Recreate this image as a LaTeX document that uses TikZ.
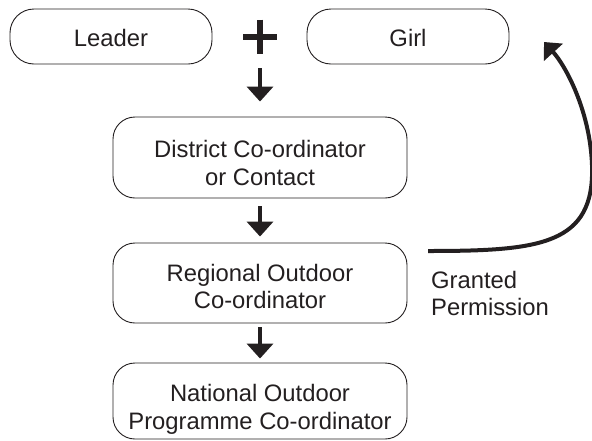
\documentclass[tikz,border=0pt]{standalone}
\usepackage{fontspec}
\setmainfont{Liberation Sans}
\usetikzlibrary{arrows.meta}
\definecolor{ink}{RGB}{35,31,32}
\begin{document}
\begin{tikzpicture}[x=1pt,y=-1pt,
  smallbox/.style={draw=ink, line width=0.9pt, rounded corners=24pt,
    minimum width=202pt, minimum height=55pt, inner sep=0pt},
  bigbox/.style={draw=ink, line width=0.9pt, rounded corners=22pt,
    minimum width=294pt, minimum height=80pt, inner sep=0pt},
  txt/.style={inner sep=0pt, align=center, text=ink,
    font=\fontsize{23.8}{27.5}\selectfont},
  darr/.style={draw=ink, line width=4pt, -{Triangle[length=15pt,width=26pt]}},
  carr/.style={draw=ink, line width=4pt, -{Triangle[length=14pt,width=25pt]}},
  plusst/.style={inner sep=0pt, minimum size=34pt,
    path picture={
      \draw[ink, line width=6pt] (path picture bounding box.west) -- (path picture bounding box.east);
      \draw[ink, line width=6pt] (path picture bounding box.north) -- (path picture bounding box.south);
    }}
]
\useasboundingbox (0,0) rectangle (592,440);

% top row
\node[smallbox] (leader) at (111,36.5) {};
\node[txt] (leadert) at (111,38) {Leader};
\node[plusst] (plus) at (260,36.5) {};
\node[smallbox] (girl) at (408,36.5) {};
\node[txt] (girlt) at (408,38) {Girl};

% chain
\node[bigbox, minimum height=81pt] (dist) at (260,157.5) {};
\node[txt] (distt) at (260,163) {District Co-ordinator\\or Contact};
\node[bigbox] (reg) at (260,283) {};
\node[txt] (regt) at (260,286.5) {Regional Outdoor\\Co-ordinator};
\node[bigbox, minimum height=76pt] (nat) at (260,401) {};
\node[txt] (natt) at (260,409.5) {National Outdoor\\Programme Co-ordinator};

% down arrows
\coordinate (a1s) at (260,68);
\draw[darr] (a1s) -- ([yshift=15pt]dist.north);
\draw[darr] ([yshift=-8pt]dist.south) -- ([yshift=6pt]reg.north);
\draw[darr] ([yshift=-4pt]reg.south) -- ([yshift=4pt]nat.north);

% curved arrow
\coordinate (cs) at (428,251);
\coordinate (ce) at (544,42);
\draw[carr] (cs) .. controls (540,251) and (595,245) .. (592,165)
  .. controls (590,110) and (565,65) .. (ce);

\node[txt, align=left, anchor=north west] (gp) at (431,271) {Granted\\Permission};
\end{tikzpicture}
\end{document}
